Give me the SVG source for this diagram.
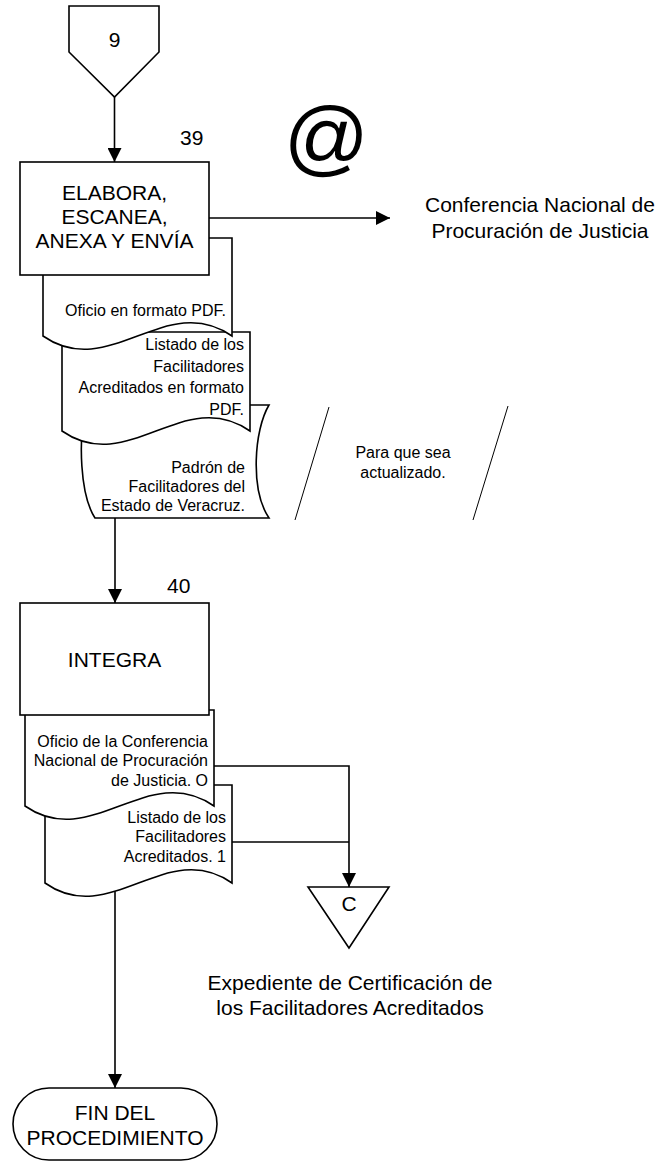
<svg xmlns="http://www.w3.org/2000/svg" width="661" height="1163" viewBox="0 0 661 1163">
  <style>
    .shape { fill: #ffffff; stroke: #000000; stroke-width: 1.6; stroke-linejoin: miter; }
    .line { fill: none; stroke: #000000; stroke-width: 1.6; }
    .thin { fill: none; stroke: #000000; stroke-width: 1; }
    text { font-family: "Liberation Sans", Arial, sans-serif; fill: #000000; }
    .big { font-size: 21px; }
    .small { font-size: 16px; }
    .mid { text-anchor: middle; }
    .end { text-anchor: end; }
  </style>
  <defs>
    <marker id="arrow" viewBox="0 0 10 10" refX="10" refY="5" markerUnits="userSpaceOnUse" markerWidth="16" markerHeight="14" orient="auto">
      <path d="M0,0 L10,5 L0,10 Z" fill="#000000"/>
    </marker>
  </defs>

  <!-- connectors -->
  <g id="connectors">
    <line class="line" x1="114.5" y1="97" x2="114.5" y2="162" marker-end="url(#arrow)"/>
    <line class="line" x1="209" y1="218" x2="390" y2="218" marker-end="url(#arrow)"/>
    <line class="line" x1="115" y1="515" x2="115" y2="603" marker-end="url(#arrow)"/>
    <polyline class="line" points="214,766 349,766 349,887" marker-end="url(#arrow)"/>
    <line class="line" x1="232" y1="842" x2="349" y2="842"/>
    <line class="line" x1="115" y1="890" x2="115" y2="1088" marker-end="url(#arrow)"/>
  </g>

  <!-- off-page connector 9 -->
  <g id="offpage-9">
    <polygon class="shape" points="69,6 159,6 159,52 114.5,97 69,52"/>
    <text class="big mid" x="114.5" y="47">9</text>
  </g>

  <!-- documents produced by step 39 (back to front) -->
  <g id="doc-padron">
    <path class="shape" d="M86,405 H269 C254,430 250,490 269,518 H95 C80,495 78,440 86,405 Z"/>
    <text class="small end" x="245" y="473">Padrón de</text>
    <text class="small end" x="245" y="492">Facilitadores del</text>
    <text class="small end" x="245" y="511">Estado de Veracruz.</text>
  </g>
  <g id="doc-listado-pdf">
    <path class="shape" d="M62,332 H250 V431 C184,385 128,477 62,431 Z"/>
    <text class="small end" x="244" y="350">Listado de los</text>
    <text class="small end" x="244" y="372">Facilitadores</text>
    <text class="small end" x="244" y="393">Acreditados en formato</text>
    <text class="small end" x="244" y="415">PDF.</text>
  </g>
  <g id="doc-oficio-pdf">
    <path class="shape" d="M43,238 H232 V336 C166,290 109,382 43,336 Z"/>
    <text class="small end" x="226" y="316">Oficio en formato PDF.</text>
  </g>

  <!-- step 39 -->
  <g id="step-39">
    <rect class="shape" x="20" y="162" width="189" height="113"/>
    <text class="big" x="180" y="145">39</text>
    <text class="big mid" x="114.5" y="200">ELABORA,</text>
    <text class="big mid" x="114.5" y="224">ESCANEA,</text>
    <text class="big mid" x="114.5" y="248">ANEXA Y ENVÍA</text>
  </g>

  <!-- e-mail destination -->
  <g id="email-destino">
    <text x="326.5" y="166" font-size="84" text-anchor="middle">@</text>
    <text class="big mid" x="540" y="212">Conferencia Nacional de</text>
    <text class="big mid" x="540" y="238">Procuración de Justicia</text>
  </g>

  <!-- annotation -->
  <g id="nota-actualizado">
    <line class="thin" x1="329" y1="407" x2="295" y2="520"/>
    <line class="thin" x1="508" y1="406" x2="473" y2="520"/>
    <text class="small mid" x="403" y="458">Para que sea</text>
    <text class="small mid" x="403" y="478">actualizado.</text>
  </g>

  <!-- documents of step 40 (back to front) -->
  <g id="doc-listado">
    <path class="shape" d="M45,785 H232 V883 C167,837 110,929 45,883 Z"/>
    <text class="small end" x="226" y="823">Listado de los</text>
    <text class="small end" x="226" y="842">Facilitadores</text>
    <text class="small end" x="226" y="862">Acreditados. 1</text>
  </g>
  <g id="doc-oficio-conferencia">
    <path class="shape" d="M25,710 H214 V806 C148,760 91,852 25,806 Z"/>
    <text class="small end" x="208" y="747">Oficio de la Conferencia</text>
    <text class="small end" x="208" y="766">Nacional de Procuración</text>
    <text class="small end" x="208" y="786">de Justicia. O</text>
  </g>

  <!-- step 40 -->
  <g id="step-40">
    <rect class="shape" x="20" y="603" width="189" height="112"/>
    <text class="big" x="167" y="593">40</text>
    <text class="big mid" x="114.5" y="667">INTEGRA</text>
  </g>

  <!-- file C -->
  <g id="archivo-c">
    <polygon class="shape" points="308,887 389,887 349,948"/>
    <text class="big mid" x="349" y="911">C</text>
    <text class="big mid" x="350" y="990">Expediente de Certificación de</text>
    <text class="big mid" x="350" y="1015">los Facilitadores Acreditados</text>
  </g>

  <!-- end -->
  <g id="fin">
    <rect class="shape" x="13" y="1088" width="204" height="72" rx="36" ry="36"/>
    <text class="big mid" x="115" y="1120">FIN DEL</text>
    <text class="big mid" x="115" y="1145">PROCEDIMIENTO</text>
  </g>
</svg>
